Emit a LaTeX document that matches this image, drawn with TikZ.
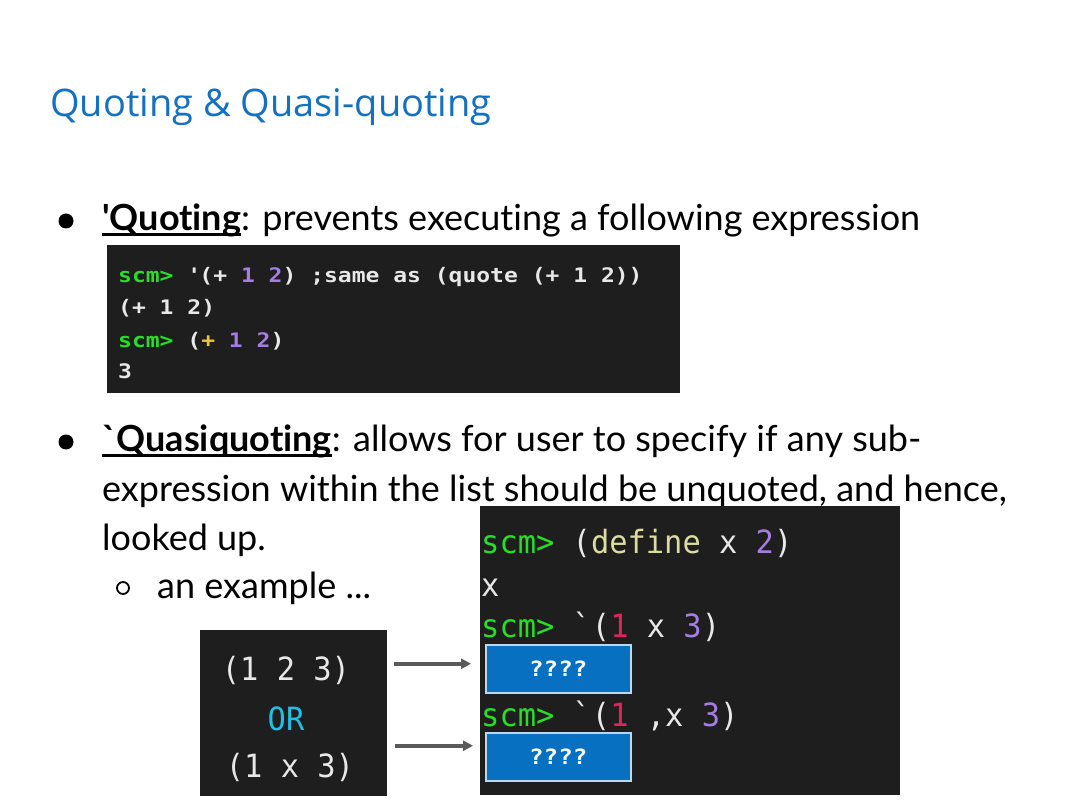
\documentclass[tikz,border=0pt]{standalone}
\usepackage{fontspec}
\setmainfont[Ligatures={TeX,NoCommon}]{Lato}
\newfontfamily\titlefont{Open Sans}
\newfontfamily\codefont[FakeStretch=0.95]{DejaVu Sans Mono}
\newfontfamily\codebfont[FakeStretch=1.15]{DejaVu Sans Mono}
\usetikzlibrary{arrows.meta}

\definecolor{titleblue}{RGB}{20,112,192}
\definecolor{codegray}{RGB}{30,30,30}
\definecolor{codewhite}{RGB}{232,232,232}
\definecolor{scmgreen}{RGB}{40,222,40}
\definecolor{numpurple}{RGB}{164,126,226}
\definecolor{plusyellow}{RGB}{232,200,70}
\definecolor{defyellow}{RGB}{220,220,160}
\definecolor{onered}{RGB}{226,36,94}
\definecolor{orcyan}{RGB}{30,192,230}
\definecolor{qblue}{RGB}{8,112,192}
\definecolor{qedge}{RGB}{190,215,238}
\definecolor{arrgray}{RGB}{90,90,90}

\newcommand{\ulword}[1]{\setbox0=\hbox{#1}\rlap{\rule[-5pt]{\wd0}{2.5pt}}\box0}
\newcommand{\prompt}{\textcolor{scmgreen}{scm>}}
\newcommand{\numc}[1]{\textcolor{numpurple}{#1}}

\begin{document}
\begin{tikzpicture}[x=1pt, y=-1pt,
	body/.style={anchor=base west, inner sep=0, font=\fontsize{36}{44}\selectfont},
	dot/.style={circle, fill=black, inner sep=0, minimum size=15pt},
	ring/.style={circle, draw=black, line width=1.8pt, inner sep=0, minimum size=12pt},
	codebox/.style={fill=codegray, inner sep=0, anchor=north west},
	codeA/.style={anchor=base west, inner sep=0, text=codewhite, font=\codebfont\bfseries\fontsize{20}{24}\selectfont},
	codeB/.style={anchor=base west, inner sep=0, text=codewhite, font=\codefont\fontsize{32}{38}\selectfont},
	qbox/.style={fill=qblue, draw=qedge, line width=1.5pt, minimum width=145pt, minimum height=48pt, anchor=north west, inner sep=0, text=white, font=\codebfont\bfseries\fontsize{21}{26}\selectfont},
	arr/.style={draw=arrgray, line width=3.5pt, -{Triangle[length=10pt,width=10pt]}}]
	\useasboundingbox[fill=white] (0,0) rectangle (1080,810);

	\node[anchor=base west, inner sep=0, text=titleblue, font=\titlefont\fontsize{38}{46}\selectfont] (title) at (50,117) {Quoting \& Quasi-quoting};

	% quoting
	\node[dot] (dot1) at (66,221) {};
	\node[body] (quot) at (102,231) {\textbf{\ulword{\textquotesingle Quoting}}: prevents executing a following expression};
	\node[codebox, minimum width=573pt, minimum height=148pt] (code1) at (107,245) {};
	\node[codeA] (c1a) at (118,283) {\prompt{} \textquotesingle(+ \numc{1} \numc{2}) ;same as (quote (+ 1 2))};
	\node[codeA] (c1b) at (118,315) {(+ 1 2)};
	\node[codeA] (c1c) at (118,348) {\prompt{} (\textcolor{plusyellow}{+} \numc{1} \numc{2})};
	\node[codeA] (c1d) at (118,379) {3};

	% quasiquoting
	\node[dot] (dot2) at (66,442) {};
	\node[body] (qq1) at (102,452) {\textbf{\ulword{\textasciigrave Quasiquoting}}: allows for user to specify if any sub-};
	\node[body] (qq2) at (102,501) {expression within the list should be unquoted, and hence,};
	\node[body] (qq3) at (102,550) {looked up.};
	\node[ring] (dot3) at (123,588) {};
	\node[body] (ex) at (157,598) {an example ...};

	\node[codebox, minimum width=420pt, minimum height=289pt] (code2) at (480,506) {};
	\node[codeB] (c2a) at (481,553) {\prompt{} (\textcolor{defyellow}{define} x \numc{2})};
	\node[codeB] (c2b) at (481,596) {x};
	\node[codeB] (c2c) at (481,637) {\prompt{} \textasciigrave(\textcolor{onered}{1} x \numc{3})};
	\node[codeB] (c2d) at (481,726) {\prompt{} \textasciigrave(\textcolor{onered}{1} ,x \numc{3})};
	\node[qbox] (ans1) at (485,644) {????};
	\node[qbox] (ans2) at (485,732) {????};

	\node[codebox, minimum width=187pt, minimum height=166pt] (lbox) at (200,630) {};
	\node[codeB, anchor=base] (l1) at (286,680) {(1 2 3)};
	\node[codeB, anchor=base, text=orcyan] (l2) at (286,730) {OR};
	\node[codeB, anchor=base] (l3) at (290,777) {(1 x 3)};

	\draw[arr, shorten <=7pt, shorten >=14pt] ([yshift=5pt]lbox.east |- ans1.west) -- ([yshift=5pt]ans1.west);
	\draw[arr, shorten <=8pt, shorten >=12pt] ([yshift=11pt]lbox.east |- ans2.west) -- ([yshift=11pt]ans2.west);
\end{tikzpicture}
\end{document}
